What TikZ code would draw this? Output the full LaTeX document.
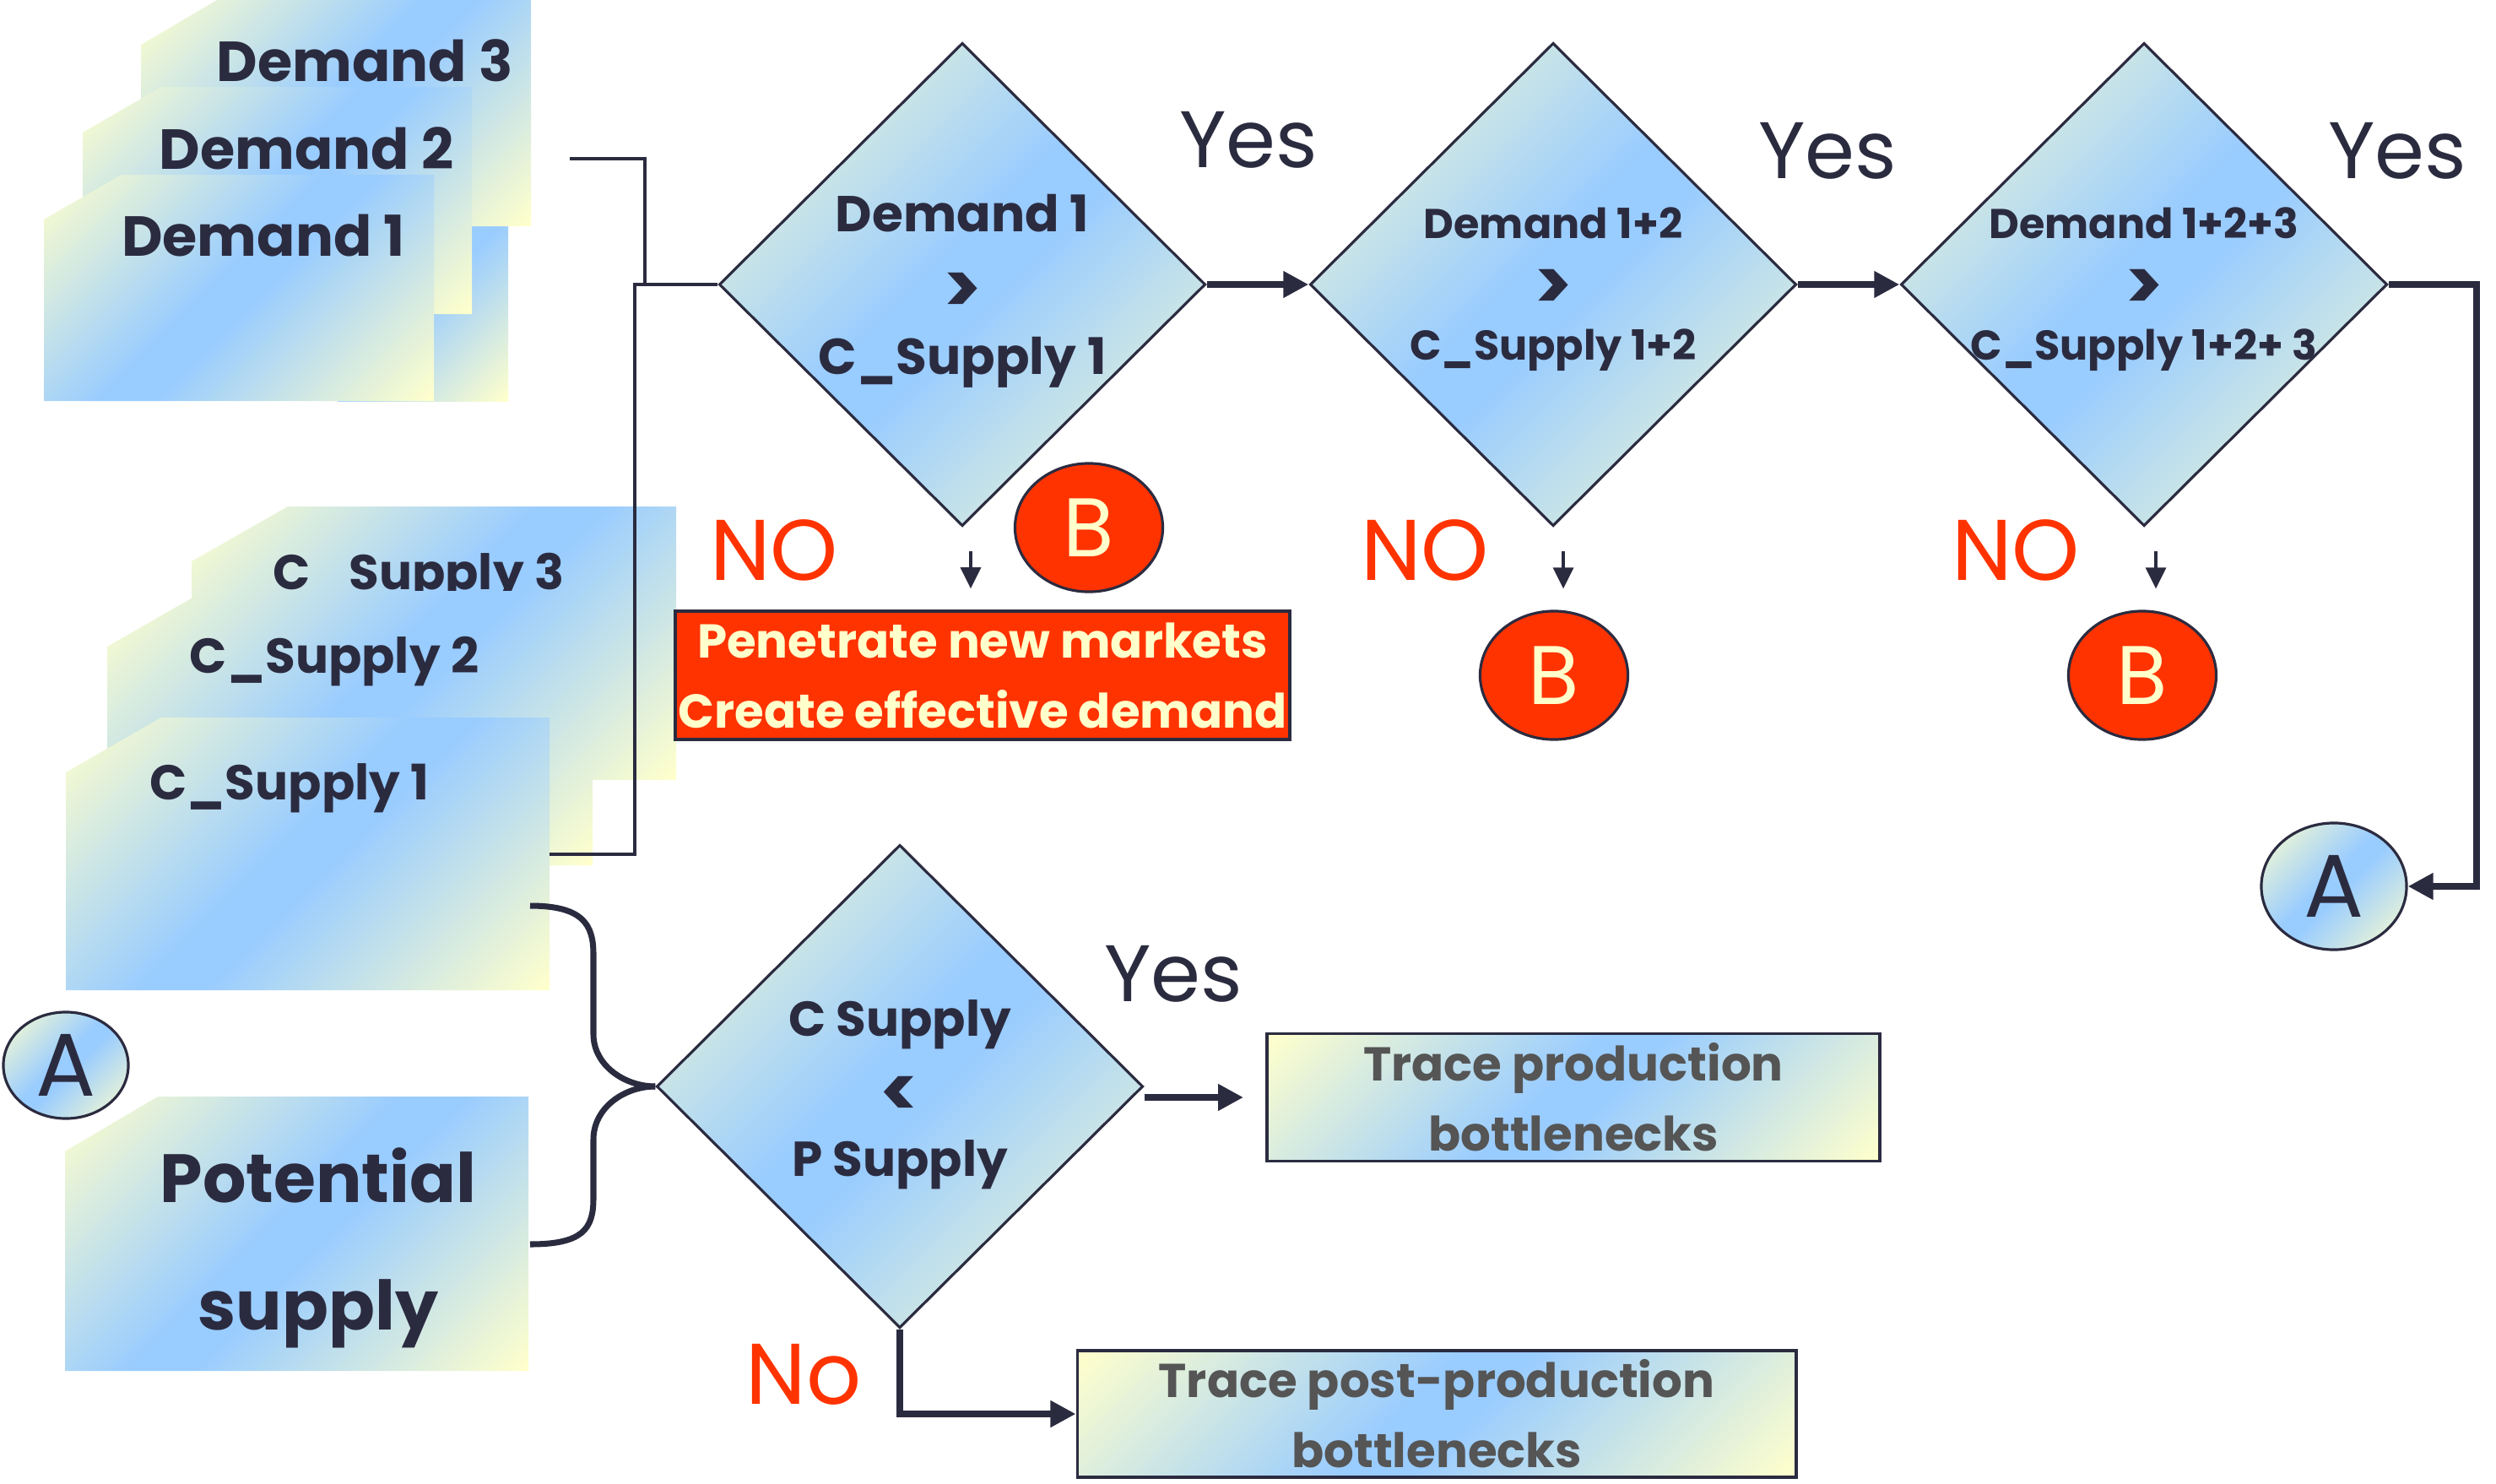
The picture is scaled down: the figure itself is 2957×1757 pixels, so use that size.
\documentclass[tikz,border=0pt]{standalone}
\usepackage{fontspec}
\setmainfont{Poppins}
\usepackage{tikz}
\usetikzlibrary{arrows.meta,shapes.geometric,positioning,calc}
\definecolor{inkblue}{RGB}{43,43,64}
\definecolor{paleyellow}{RGB}{255,255,204}
\definecolor{skyblue}{RGB}{153,204,255}
\definecolor{alertred}{RGB}{255,51,0}
\definecolor{tracegray}{RGB}{85,85,85}
\pgfdeclareverticalshading{cardfill}{100bp}{color(0bp)=(paleyellow);
  color(15bp)=(paleyellow); color(47bp)=(skyblue); color(53bp)=(skyblue);
  color(85bp)=(paleyellow); color(100bp)=(paleyellow)}
\newcommand{\gt}{\raisebox{-3.5pt}{\fontsize{24}{20}\selectfont >}}
\newcommand{\lt}{\raisebox{-3.5pt}{\fontsize{24}{20}\selectfont <}}

\begin{document}
\begin{tikzpicture}[x=0.01cm,y=-0.01cm,
  card/.style={shade,shading=cardfill,shading angle=45},
  cardtext/.style={text=inkblue,font=\bfseries\fontsize{19}{23}\selectfont},
  supplytext/.style={text=inkblue,font=\bfseries\fontsize{16.5}{20}\selectfont},
  test/.style={diamond,card,draw=inkblue,line width=0.9pt,
               minimum width=5.76cm,minimum height=5.72cm,inner sep=0pt},
  testtext/.style={align=center,text=inkblue},
  yeslabel/.style={text=inkblue,font=\fontsize{27}{30}\selectfont},
  nolabel/.style={text=alertred,font=\fontsize{29}{32}\selectfont},
  jumpB/.style={ellipse,draw=inkblue,line width=0.9pt,fill=alertred,
                text=paleyellow,minimum width=1.75cm,minimum height=1.52cm,
                inner sep=0pt,font=\fontsize{28}{30}\selectfont},
  jumpA/.style={ellipse,card,draw=inkblue,line width=0.9pt,text=inkblue,
                minimum width=1.72cm,minimum height=1.5cm,
                inner sep=0pt,font=\fontsize{30}{32}\selectfont},
  action/.style={rectangle,draw=inkblue,line width=1pt,inner sep=0pt,
                 align=center,font=\bfseries\fontsize{16}{23.6}\selectfont},
  link/.style={draw=inkblue,line width=0.9pt},
  flow/.style={draw=inkblue,line width=2.3pt,-{Triangle[width=0.3cm,length=0.3cm]}},
  downtip/.style={draw=inkblue,line width=0.9pt,-{Triangle[width=0.24cm,length=0.25cm]}},
]
\useasboundingbox (0,0) rectangle (2957,1757);

% Demand cards (back to front)
\path[card] (400,200) rectangle (602,475);
\path[card] (167,53) -- (257,0) -- (629,0) -- (629,268) -- (167,268) -- cycle;
\node[cardtext] (dem3) at (432,72) {Demand 3};
\path[card] (98,157) -- (191,103) -- (559,103) -- (559,372) -- (98,372) -- cycle;
\node[cardtext] (dem2) at (363,176) {Demand 2};
\path[card] (52,260) -- (144,207) -- (514,207) -- (514,475) -- (52,475) -- cycle;
\node[cardtext] (dem1) at (312,279) {Demand 1};

% C_Supply cards
\path[card] (227,665) -- (341,600) -- (801,600) -- (801,924) -- (227,924) -- cycle;
\node[supplytext] (sup3) at (496,685) {C\_Supply 3};
\path[card] (127,766) -- (242,700) -- (702,700) -- (702,1025) -- (127,1025) -- cycle;
\node[supplytext] (sup2) at (396,784) {C\_Supply 2};
\path[card] (78,915) -- (191,850) -- (651,850) -- (651,1173) -- (78,1173) -- cycle;
\node[supplytext] (sup1) at (343,934) {C\_Supply 1};

% Potential supply card
\path[card] (77,1364) -- (187,1299) -- (626,1299) -- (626,1624) -- (77,1624) -- cycle;
\node[text=inkblue,align=center,font=\bfseries\fontsize{23}{43}\selectfont]
  (pot) at (377,1478) {Potential\\supply};

% Decisions
\node[test] (d1) at (1140,337) {};
\node[test] (d2) at (1840,337) {};
\node[test] (d3) at (2540,337) {};
\node[test] (d4) at (1066,1287) {};
\node[testtext,font=\bfseries\fontsize{17}{24}\selectfont] (d1t) at (1140,345)
  {Demand 1\\\gt\\C\_Supply 1};
\node[testtext,font=\bfseries\fontsize{14}{20.5}\selectfont] (d2t) at (1840,343)
  {Demand 1+2\\\gt\\C\_Supply 1+2};
\node[testtext,font=\bfseries\fontsize{14}{20.5}\selectfont] (d3t) at (2540,343)
  {Demand 1+2+3\\\gt\\C\_Supply 1+2+ 3};
\node[testtext,font=\bfseries\fontsize{16.5}{23.6}\selectfont] (d4t) at (1066,1297)
  {C Supply\\\lt\\P Supply};

% Outcomes
\node[action,fill=alertred,text=paleyellow,minimum width=7.28cm,minimum height=1.52cm]
  (pen) at (1164,800) {Penetrate new markets\\Create effective demand};
\node[jumpB] (b1) at (1290,625) {B};
\node[jumpB] (b2) at (1841,800) {B};
\node[jumpB] (b3) at (2538,800) {B};
\node[jumpA] (a2) at (2765,1050) {A};
\node[jumpA,minimum width=1.48cm,minimum height=1.26cm] (a1) at (78,1262) {A};
\node[action,card,text=tracegray,minimum width=7.26cm,minimum height=1.51cm]
  (tp) at (1864,1300) {Trace production\\bottlenecks};
\node[action,card,text=tracegray,minimum width=8.51cm,minimum height=1.5cm]
  (tpp) at (1702,1675) {Trace post-production\\bottlenecks};

% Yes / NO labels
\node[yeslabel] (y1) at (1479,166) {Yes};
\node[yeslabel] (y2) at (2165,179) {Yes};
\node[yeslabel] (y3) at (2840,179) {Yes};
\node[yeslabel] (y4) at (1390,1154) {Yes};
\node[nolabel] (n1) at (917,652) {NO};
\node[nolabel] (n2) at (1688,652) {NO};
\node[nolabel] (n3) at (2388,652) {NO};
\node[nolabel] (n4) at (952,1628) {No};

% Inputs into first test
\coordinate (demout) at (675,188);
\coordinate (supout) at (651,1012);
\draw[link] (demout) -- ++(89,0) |- (d1.west);
\draw[link] (supout) -- ++(101,0) |- (d1.west);

% Brace into supply test
\coordinate (brtop) at (628,1073);
\coordinate (brbot) at (628,1474);
\draw[link,line width=2pt] (brtop) .. controls (690,1073) and (703,1095) .. (703,1130)
  -- (703,1225) .. controls (703,1262) and (740,1287) .. (d4.west);
\draw[link,line width=2pt] (d4.west) .. controls (740,1287) and (703,1312) .. (703,1350)
  -- (703,1420) .. controls (703,1456) and (690,1474) .. (brbot);

% Yes chain
\draw[flow] (d1.east) -- (d2.west);
\draw[flow] (d2.east) -- (d3.west);
\draw[flow] (d3.east) -- ++(104,0) |- (a2.east);
\draw[flow,shorten >=0.26cm] (d4.east |- tp.west) -- (tp.west);
\draw[flow] (d4.south) |- (tpp.west);

% NO arrows
\foreach \d/\t/\dx in {d1/pen/10,d2/b2/12,d3/b3/14}{
  \draw[downtip] ($(\d.south)+(\dx,28)$) -- ($(\d.south |- \t.north)+(\dx,-25)$);
}
\end{tikzpicture}
\end{document}
